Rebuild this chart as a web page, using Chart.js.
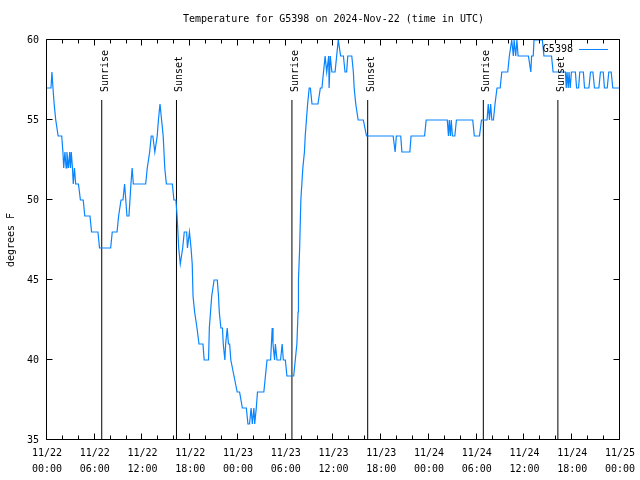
<!DOCTYPE html>
<html>
<head>
<meta charset="utf-8">
<title>Temperature for G5398</title>
<script src="https://cdn.jsdelivr.net/npm/chart.js@4/dist/chart.umd.min.js"></script>
<style>
  html, body { margin: 0; padding: 0; background: #fff; }
  #wrap { width: 640px; height: 480px; }
</style>
</head>
<body>
<div id="wrap"><canvas id="tempChart" width="640" height="480"></canvas></div>
<script>
// hours since 11/22 00:00 UTC
const sampleHours = [
  0.0, 0.5, 0.62, 0.75, 0.9, 1.1, 1.4, 1.85, 2.0, 2.1, 2.25, 2.4, 2.5, 2.7, 2.85, 2.95, 3.05, 3.2, 3.3, 3.45,
  3.6, 3.95, 4.2, 4.55, 4.75, 5.4, 5.6, 6.4, 6.6, 8.0, 8.2, 8.8, 9.0, 9.3, 9.55, 9.75, 10.05, 10.3, 10.55, 10.7,
  10.85, 12.4, 12.6, 12.9, 13.1, 13.3, 13.55, 13.85, 14.0, 14.2, 14.4, 14.6, 14.8, 15.0, 15.75, 15.95, 16.2, 16.35,
  16.55, 16.75, 17.05, 17.25, 17.55, 17.65, 17.9, 18.1, 18.25, 18.35, 18.55, 18.85, 19.1, 19.6, 19.75, 20.3, 20.4,
  20.55, 20.7, 21.0, 21.4, 21.55, 21.65, 21.85, 22.05, 22.15, 22.35, 22.45, 22.65, 22.8, 22.95, 23.1, 23.5, 23.9,
  24.2, 24.55, 25.05, 25.25, 25.45, 25.65, 25.8, 26.0, 26.1, 26.3, 26.45, 27.25, 27.45, 27.65, 28.1, 28.2, 28.3,
  28.4, 28.6, 28.7, 28.9, 29.35, 29.55, 29.7, 29.95, 30.15, 31.0, 31.2, 31.4, 31.55, 31.6, 31.75, 31.9, 32.15,
  32.35, 32.45, 32.6, 32.75, 32.95, 33.1, 33.3, 34.05, 34.35, 34.55, 34.75, 34.95, 35.15, 35.4, 35.45, 35.6, 35.8,
  36.2, 36.4, 36.6, 36.9, 37.25, 37.45, 37.65, 37.8, 38.3, 38.5, 38.6, 38.8, 39.1, 39.75, 40.15, 43.5, 43.75, 43.9,
  44.45, 44.6, 45.6, 45.75, 47.45, 47.65, 50.3, 50.45, 50.55, 50.7, 50.8, 50.95, 51.25, 51.45, 53.5, 53.7, 54.35,
  54.6, 55.3, 55.45, 55.6, 55.75, 55.9, 56.1, 56.3, 56.55, 56.95, 57.15, 57.9, 58.1, 58.4, 58.6, 58.7, 58.9, 59.05,
  59.2, 60.5, 60.8, 60.9, 61.1, 61.2, 62.25, 62.45, 63.4, 63.6, 65.15, 65.25, 65.35, 65.5, 65.6, 65.75, 65.9, 66.4,
  66.55, 66.8, 66.95, 67.4, 67.55, 68.1, 68.3, 68.6, 68.8, 69.35, 69.55, 69.9, 70.05, 70.4, 70.6, 70.9, 71.1, 72.0
];

const tempF = [
  57, 57, 58, 57, 56, 55, 54, 54, 53, 52, 53, 52, 53, 52, 53, 52, 53, 52, 51, 52,
  51, 51, 50, 50, 49, 49, 48, 48, 47, 47, 48, 48, 49, 50, 50, 51, 49, 49, 51, 52,
  51, 51, 52, 53, 54, 54, 53, 54, 55, 56, 55, 54, 52, 51, 51, 50, 50, 49,
  47, 46, 47, 48, 48, 47, 48, 47, 46, 44, 43, 42, 41, 41, 40, 40, 42,
  43, 44, 45, 45, 44, 43, 42, 42, 41, 40, 41, 42, 41, 41, 40, 39, 38,
  38, 37, 37, 36, 36, 37, 36, 37, 36, 37, 38, 38, 39, 40, 40, 41, 42,
  41, 40, 41, 40, 40, 41, 40, 40, 39, 39, 40, 41, 43, 45, 47, 50, 52,
  53, 54, 55, 56, 57, 57, 56, 56, 57, 57, 58, 59, 58, 59, 57, 59, 58,
  58, 59, 60, 59, 59, 58, 58, 59, 59, 58, 57, 56, 55, 55, 54, 54, 53, 54,
  54, 53, 53, 54, 54, 55, 55, 54, 55, 54, 55, 54, 54, 55, 55, 54, 54,
  55, 55, 56, 55, 56, 55, 55, 56, 57, 57, 58, 58, 59, 60, 59, 60, 59, 60,
  59, 59, 58, 59, 59, 60, 60, 59, 59, 58, 58, 57, 58, 57, 58, 57, 58, 58,
  57, 57, 58, 58, 57, 57, 58, 58, 57, 57, 58, 58, 57, 57, 58, 58, 57, 57
];

const sunEventHours = [6.88, 16.27, 30.78, 40.3, 54.83, 64.2];
const sunEventNames = ["Sunrise", "Sunset", "Sunrise", "Sunset", "Sunrise", "Sunset"];

const xTickLabels = [
  ["11/22", "00:00"], ["11/22", "06:00"], ["11/22", "12:00"], ["11/22", "18:00"],
  ["11/23", "00:00"], ["11/23", "06:00"], ["11/23", "12:00"], ["11/23", "18:00"],
  ["11/24", "00:00"], ["11/24", "06:00"], ["11/24", "12:00"], ["11/24", "18:00"],
  ["11/25", "00:00"]
];

const Y_MIN = 35;
const Y_MAX = 60;
const SUN_LINE_TOP = 56.25;
const SUN_LABEL_START = 56.75;

const LINE_COLOR = "rgb(8,132,255)";
const FONT = "'DejaVu Sans Mono', 'Liberation Mono', monospace";

const tempPoints = sampleHours.map((h, i) => ({ x: h, y: tempF[i] }));

const sunPoints = [];
sunEventHours.forEach(h => {
  sunPoints.push({ x: h, y: Y_MIN });
  sunPoints.push({ x: h, y: SUN_LINE_TOP });
  sunPoints.push({ x: h, y: null });
});

// gnuplot style frame: border plus inward ticks on all four sides
const frameTicks = {
  id: "frameTicks",
  afterDraw(chart) {
    const { ctx, chartArea: a, scales: { x, y } } = chart;
    const L = Math.round(a.left) - 0.5;
    const R = Math.round(a.right) - 0.5;
    const T = Math.round(a.top) - 0.5;
    const B = Math.round(a.bottom) - 0.5;
    ctx.save();
    ctx.strokeStyle = "#000";
    ctx.lineWidth = 1;
    ctx.beginPath();
    ctx.rect(L, T, R - L, B - T);
    x.ticks.forEach(t => {
      const px = Math.round(x.getPixelForValue(t.value)) - 0.5;
      const len = t.value % 6 === 0 ? 6 : 4;
      ctx.moveTo(px, B); ctx.lineTo(px, B - len);
      ctx.moveTo(px, T); ctx.lineTo(px, T + len);
    });
    y.ticks.forEach(t => {
      const py = Math.round(y.getPixelForValue(t.value)) - 0.5;
      ctx.moveTo(L, py); ctx.lineTo(L + 6, py);
      ctx.moveTo(R, py); ctx.lineTo(R - 6, py);
    });
    ctx.stroke();
    ctx.restore();
  }
};

const sunLabels = {
  id: "sunLabels",
  afterDatasetsDraw(chart) {
    const { ctx, scales: { x, y } } = chart;
    ctx.save();
    ctx.fillStyle = "#000";
    ctx.font = "10px " + FONT;
    ctx.textAlign = "left";
    ctx.textBaseline = "alphabetic";
    sunEventHours.forEach((h, i) => {
      ctx.save();
      ctx.translate(x.getPixelForValue(h) + 6, y.getPixelForValue(SUN_LABEL_START));
      ctx.rotate(-Math.PI / 2);
      ctx.fillText(sunEventNames[i], 0, 0);
      ctx.restore();
    });
    ctx.restore();
  }
};

const keyBox = {
  id: "keyBox",
  afterDraw(chart) {
    const { ctx, chartArea: a } = chart;
    const yMid = a.top + 9.5;
    ctx.save();
    ctx.fillStyle = "#000";
    ctx.font = "10px " + FONT;
    ctx.textAlign = "right";
    ctx.textBaseline = "middle";
    ctx.fillText("G5398", a.right - 47, yMid);
    ctx.strokeStyle = LINE_COLOR;
    ctx.lineWidth = 1;
    ctx.beginPath();
    ctx.moveTo(a.right - 41, yMid);
    ctx.lineTo(a.right - 12, yMid);
    ctx.stroke();
    ctx.restore();
  }
};

new Chart(document.getElementById("tempChart"), {
  type: "line",
  data: {
    datasets: [
      {
        label: "G5398",
        data: tempPoints,
        borderColor: LINE_COLOR,
        borderWidth: 1.2,
        pointRadius: 0,
        tension: 0,
        fill: false
      },
      {
        label: "sun",
        data: sunPoints,
        borderColor: "#000",
        borderWidth: 1,
        pointRadius: 0,
        spanGaps: false,
        fill: false
      }
    ]
  },
  options: {
    responsive: false,
    animation: false,
    layout: { padding: { left: 0, right: 18, top: 0, bottom: 0 } },
    plugins: {
      legend: { display: false },
      tooltip: { enabled: false },
      title: {
        display: true,
        fullSize: false,
        text: "Temperature for G5398 on 2024-Nov-22 (time in UTC)",
        color: "#000",
        font: { family: FONT, size: 10, weight: "normal", lineHeight: 1.2 },
        padding: { top: 13, bottom: 15 }
      }
    },
    scales: {
      x: {
        type: "linear",
        min: 0,
        max: 72,
        grid: { display: false, drawTicks: false },
        border: { display: false },
        afterFit: scale => { scale.height = 40; },
        ticks: {
          stepSize: 2,
          autoSkip: false,
          maxRotation: 0,
          padding: 5,
          color: "#000",
          font: { family: FONT, size: 10, lineHeight: 1.6 },
          callback: v => (v % 6 === 0 ? xTickLabels[v / 6] : "")
        }
      },
      y: {
        min: Y_MIN,
        max: Y_MAX,
        grid: { display: false, drawTicks: false },
        border: { display: false },
        afterFit: scale => { scale.width = 47; },
        title: {
          display: true,
          text: "degrees F",
          color: "#000",
          font: { family: FONT, size: 10 },
          padding: { top: 5, bottom: 0 }
        },
        ticks: {
          stepSize: 5,
          padding: 8,
          color: "#000",
          font: { family: FONT, size: 10 }
        }
      }
    }
  },
  plugins: [frameTicks, sunLabels, keyBox]
});
</script>
</body>
</html>
